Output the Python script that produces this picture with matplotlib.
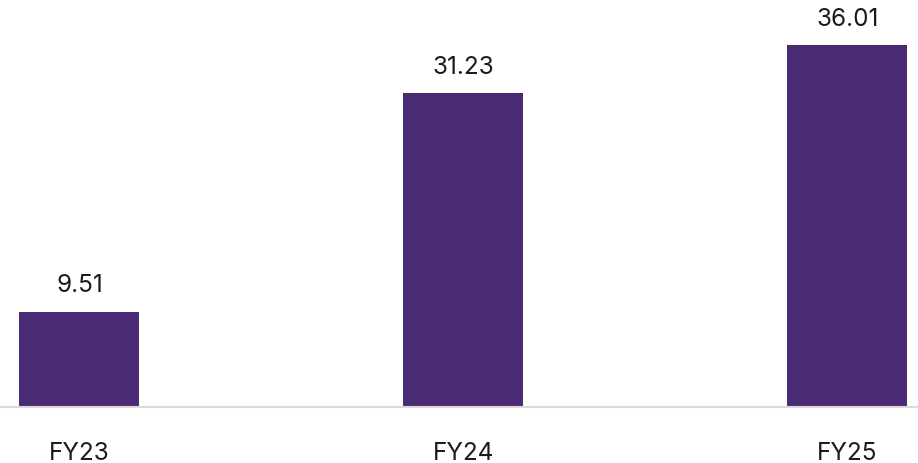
import matplotlib
matplotlib.use('Agg')
import matplotlib.pyplot as plt

plt.rcParams['font.family'] = ['Inter', 'DejaVu Sans']

years = ['FY23', 'FY24', 'FY25']
values = [9.51, 31.23, 36.01]

fig = plt.figure(figsize=(9.18, 4.64), dpi=100)
ax = fig.add_axes([0, 0.12, 1, 0.88])

x = range(len(years))
bars = ax.bar(x, values, width=0.3125, color='#4b2a74')

for b, v in zip(bars, values):
    ax.annotate(f'{v:.2f}', (b.get_x() + b.get_width() / 2, v),
                xytext=(0, 11), textcoords='offset points',
                ha='center', va='bottom', fontsize=17.5, color='#1a1a1a')

ax.set_xlim(-0.207, 2.184)
ax.set_ylim(0, 40.59)
ax.set_xticks(list(x))
ax.set_xticklabels(years, fontsize=17.5, color='#1a1a1a')
ax.tick_params(axis='x', length=0, pad=24)
ax.set_yticks([])

for s in ['top', 'left', 'right']:
    ax.spines[s].set_visible(False)
ax.spines['bottom'].set_color('#d9d9d9')
ax.spines['bottom'].set_linewidth(1.5)

fig.savefig('out.png', dpi=100)
